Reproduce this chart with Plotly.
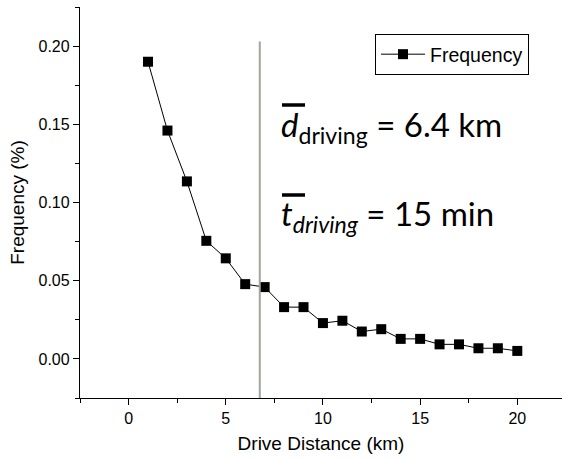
import plotly.graph_objects as go

# Data
distance_km = list(range(1, 21))
frequency = [0.190, 0.146, 0.1135, 0.0755, 0.0643, 0.0478, 0.0459, 0.0331, 0.0331, 0.0229,
             0.0244, 0.0175, 0.0190, 0.0128, 0.0128, 0.0093, 0.0093, 0.0068, 0.0068, 0.0051]
mean_line_x = 6.75
mean_line_top = 0.203
series_name = "Frequency"
x_title = "Drive Distance (km)"
y_title = "Frequency (%)"
label_d = "<i>d</i><sub>driving</sub> = 6.4 km"
label_t = "<i>t</i><sub><i>driving</i></sub> = 15 min"

W, H = 562, 459
L, R, T, B = 80, 0, 7, 61
pw, ph = W - L - R, H - T - B

def px(xp):
    return (xp - L) / pw

def py(yp):
    return (H - B - yp) / ph

fig = go.Figure()
fig.add_trace(go.Scatter(
    x=distance_km, y=frequency, mode="lines+markers", name=series_name,
    line=dict(color="black", width=1),
    marker=dict(symbol="square", size=10, color="black"),
    showlegend=True,
))

fig.add_shape(type="line", xref="x", yref="y", x0=mean_line_x, x1=mean_line_x,
              y0=-0.025, y1=mean_line_top, line=dict(color="#9DA69D", width=2))

ann_font = dict(family="Lato, Carlito, sans-serif", size=33, color="black")
fig.add_annotation(xref="paper", yref="paper", x=px(279), y=py(127), xanchor="left",
                   yanchor="middle", text=label_d, showarrow=False, font=ann_font)
fig.add_annotation(xref="paper", yref="paper", x=px(279), y=py(215), xanchor="left",
                   yanchor="middle", text=label_t, showarrow=False, font=ann_font)
for ybar in (105, 195):
    fig.add_shape(type="line", xref="paper", yref="paper", x0=px(282), x1=px(305),
                  y0=py(ybar), y1=py(ybar), line=dict(color="black", width=3.5))

axis_font = dict(family="Liberation Sans, Arial, sans-serif", size=16, color="black")
title_font = dict(family="Liberation Sans, Arial, sans-serif", size=19, color="black")

fig.update_xaxes(range=[-2.5, 22.3], showgrid=False, zeroline=False, showline=True,
                 linecolor="black", linewidth=1.3, ticks="outside", ticklen=6, tickwidth=1.3,
                 tickcolor="black", tick0=0, dtick=5, tickfont=axis_font,
                 minor=dict(ticks="outside", ticklen=4, tickwidth=1.3, tickcolor="black", dtick=2.5, tick0=0),
                 title=dict(text=x_title, font=title_font, standoff=10), automargin=False)
fig.update_yaxes(range=[-0.025, 0.225], showgrid=False, zeroline=False, showline=True,
                 linecolor="black", linewidth=1.3, ticks="outside", ticklen=6, tickwidth=1.3,
                 tickcolor="black", tick0=0, dtick=0.05, tickformat=".2f", tickfont=axis_font,
                 minor=dict(ticks="outside", ticklen=4, tickwidth=1.3, tickcolor="black", dtick=0.025, tick0=0),
                 title=dict(text=y_title, font=title_font, standoff=8), automargin=False)

fig.update_layout(
    width=W, height=H, margin=dict(l=L, r=R, t=T, b=B),
    plot_bgcolor="white", paper_bgcolor="white",
    legend=dict(x=px(375), y=py(34), xanchor="left", yanchor="top",
                bordercolor="black", borderwidth=1, bgcolor="white",
                font=dict(family="Liberation Sans, Arial, sans-serif", size=19.5, color="black"),
                itemwidth=44, tracegroupgap=0),
)

fig.write_html("out.html", config={"displayModeBar": False},
               post_script="document.body.style.margin='0px';document.body.style.overflow='hidden';")
